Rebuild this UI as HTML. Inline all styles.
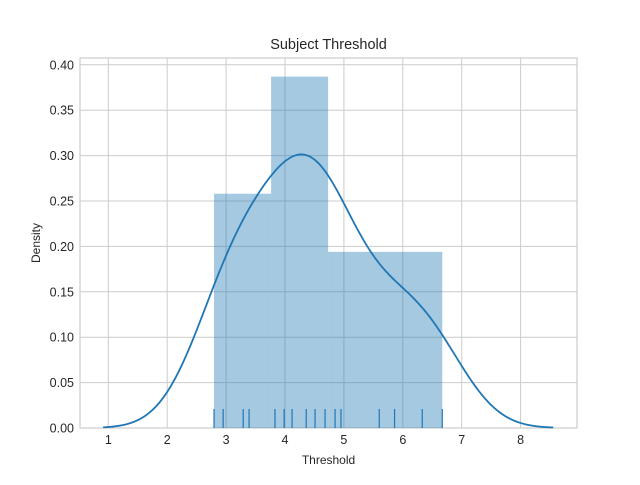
<!DOCTYPE html>
<html><head><meta charset="utf-8"><style>
body{margin:0;background:#fff;}
svg text{font-family:"Liberation Sans",sans-serif;fill:#262626;}
</style></head><body>
<svg id="chart" width="640" height="480"></svg>
<script>
const samples=[2.795,2.95,3.29,3.39,3.83,3.985,4.12,4.36,4.51,4.68,4.85,4.95,5.60,5.86,6.33,6.67];
const binEdges=[2.795,3.764,4.732,5.70,6.67];
const binDensity=[0.258,0.387,0.194,0.194];
const xTicks=[1,2,3,4,5,6,7,8];
const yTicks=[0,0.05,0.10,0.15,0.20,0.25,0.30,0.35,0.40];
const yTickLabels=["0.00","0.05","0.10","0.15","0.20","0.25","0.30","0.35","0.40"];

const L=80,R=577,T=58,B=428;
const sx=v=>108.3+(v-1)*58.9;
const sy=v=>428-v*908;
const svg=document.getElementById('chart');
const NS='http://www.w3.org/2000/svg';
function mk(tag,attrs,parent){const e=document.createElementNS(NS,tag);for(const k in attrs)e.setAttribute(k,attrs[k]);(parent||svg).appendChild(e);return e;}

const bg=mk('rect',{x:L,y:T,width:R-L,height:B-T,fill:'#fff',stroke:'#ccc','stroke-width':1.2});



xTicks.forEach(t=>{
  const l=mk('line',{x1:sx(t),x2:sx(t),y1:T,y2:B,stroke:'#ccc','stroke-width':1});
  
  
  const tx=mk('text',{x:sx(t),y:B+16,'text-anchor':'middle','font-size':12.5});
  tx.textContent=t;
  
  
});
yTicks.forEach((t,i)=>{
  const l=mk('line',{x1:L,x2:R,y1:sy(t),y2:sy(t),stroke:'#ccc','stroke-width':1});
  
  
  const tx=mk('text',{x:L-6,y:sy(t)+4.5,'text-anchor':'end','font-size':12.5});
  tx.textContent=yTickLabels[i];
  
  
});

binDensity.forEach((d,i)=>{
  const x0=sx(binEdges[i]),x1=sx(binEdges[i+1]);
  const r=mk('rect',{x:x0,y:sy(d),width:x1-x0,height:sy(0)-sy(d),fill:'#1f77b4','fill-opacity':0.4});
  
  
});

// KDE (statsmodels Scott bandwidth, cut=3)
const n=samples.length;
const mean=samples.reduce((a,b)=>a+b,0)/n;
const sd=Math.sqrt(samples.reduce((a,b)=>a+(b-mean)*(b-mean),0)/(n-1));
const sorted=[...samples].sort((a,b)=>a-b);
function q(p){const h=(n-1)*p,i=Math.floor(h);return sorted[i]+(h-i)*((sorted[i+1]??sorted[i])-sorted[i]);}
const iqr=q(0.75)-q(0.25);
const bw=1.059*Math.min(sd,iqr/1.349)*Math.pow(n,-0.2);
const lo=Math.min(...samples)-3*bw,hi=Math.max(...samples)+3*bw;
let dstr='';
for(let k=0;k<=200;k++){
  const x=lo+(hi-lo)*k/200;
  let s=0;samples.forEach(v=>{const z=(x-v)/bw;s+=Math.exp(-0.5*z*z);});
  const y=s/(n*bw*Math.sqrt(2*Math.PI));
  dstr+=(k?'L':'M')+sx(x).toFixed(2)+','+sy(y).toFixed(2);
}
const kde=mk('path',{d:dstr,fill:'none',stroke:'#1f77b4','stroke-width':1.8});



samples.forEach(v=>{
  const l=mk('line',{x1:sx(v),x2:sx(v),y1:B,y2:B-19,stroke:'#1f77b4','stroke-width':1.2});
  
  
});

const title=mk('text',{x:(L+R)/2,y:49,'text-anchor':'middle','font-size':14.5});
title.textContent='Subject Threshold';


const xl=mk('text',{x:(L+R)/2,y:464,'text-anchor':'middle','font-size':12});
xl.textContent='Threshold';


const yl=mk('text',{x:40,y:(T+B)/2,'text-anchor':'middle','font-size':12,transform:'rotate(-90 40 '+((T+B)/2)+')'});
yl.textContent='Density';


</script>
</body></html>
